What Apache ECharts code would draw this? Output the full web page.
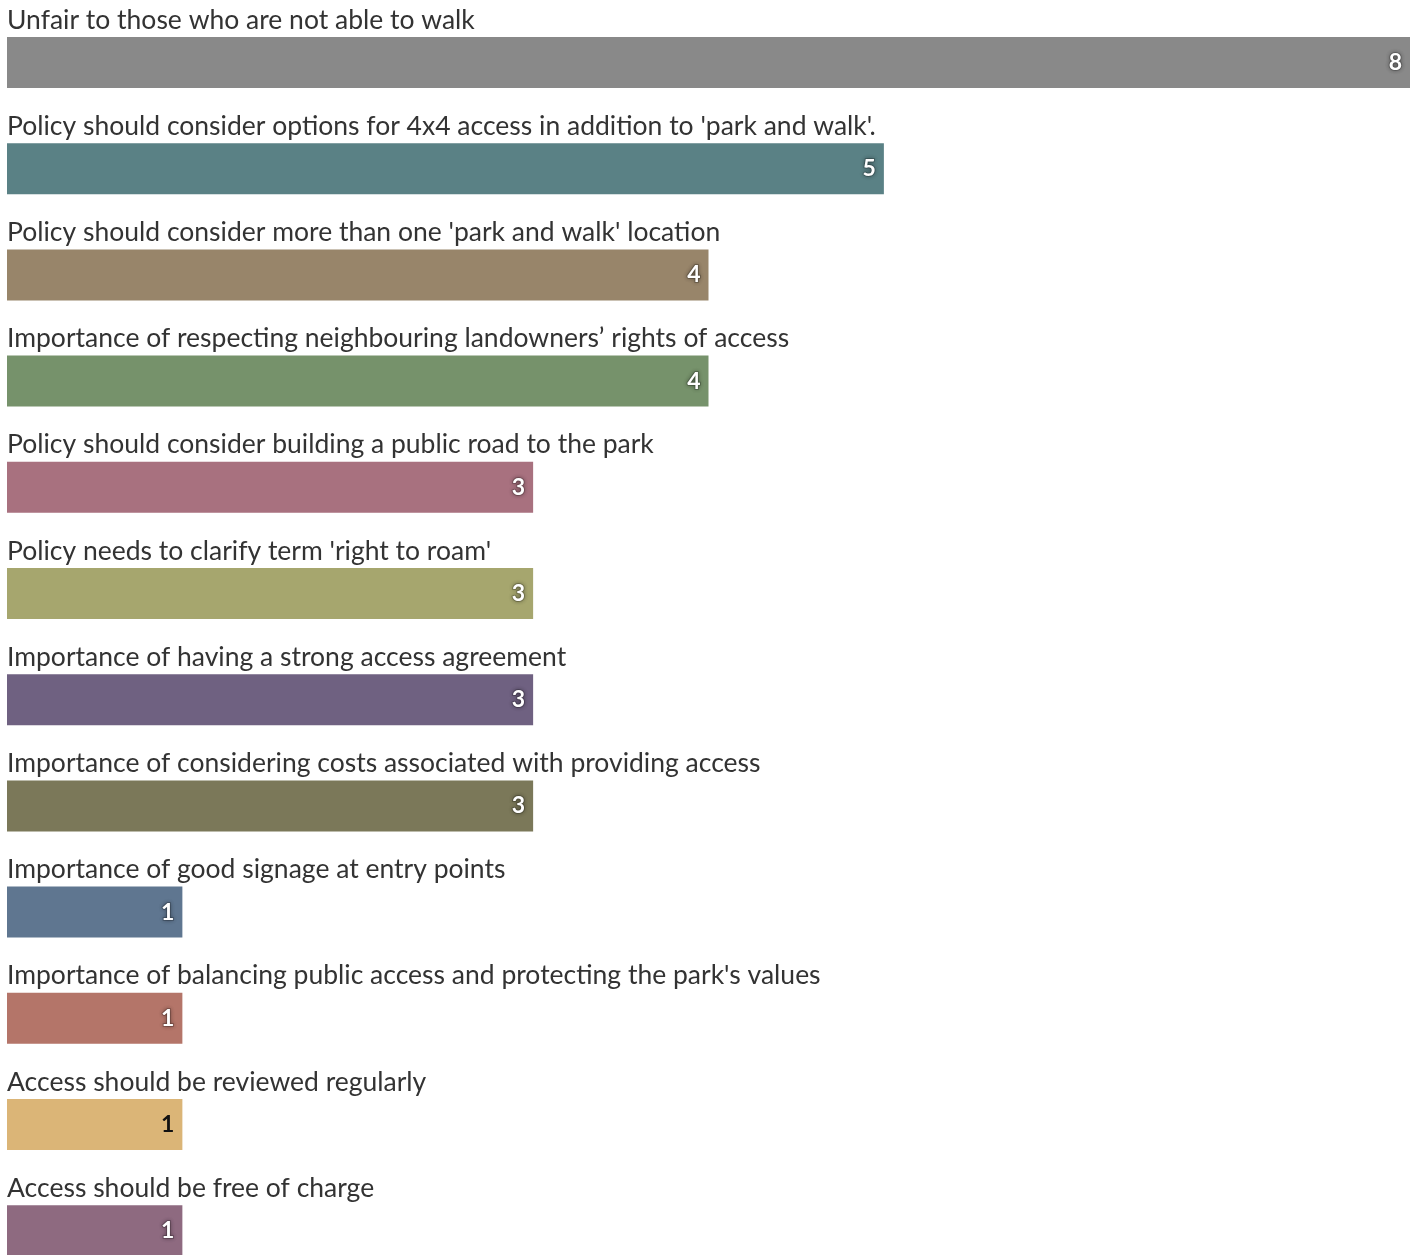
<!DOCTYPE html>
<html>
<head>
<meta charset="utf-8">
<script src="https://cdn.jsdelivr.net/npm/echarts@6/dist/echarts.min.js"></script>
<style>
html,body{margin:0;padding:0;background:#fff;}
#chart{width:1418px;height:1255px;}
</style>
</head>
<body>
<div id="chart"></div>
<script>
const categories = [
  "Unfair to those who are not able to walk",
  "Policy should consider options for 4x4 access in addition to 'park and walk'.",
  "Policy should consider more than one 'park and walk' location",
  "Importance of respecting neighbouring landowners\u2019 rights of access",
  "Policy should consider building a public road to the park",
  "Policy needs to clarify term 'right to roam'",
  "Importance of having a strong access agreement",
  "Importance of considering costs associated with providing access",
  "Importance of good signage at entry points",
  "Importance of balancing public access and protecting the park's values",
  "Access should be reviewed regularly",
  "Access should be free of charge"
];
const values = [8, 5, 4, 4, 3, 3, 3, 3, 1, 1, 1, 1];
const palette = ["#898989","#5a8185","#98856a","#76926b","#a8717f","#a6a66e","#6f6181","#7b7859","#5f7690","#b47569","#dbb577","#8e6a80"];
const labelColors = ["#fff","#fff","#fff","#fff","#fff","#fff","#fff","#fff","#fff","#fff","#111","#fff"];

const chart = echarts.init(document.getElementById('chart'));
const FONT = 'Lato, "Source Sans Pro", "Noto Sans", sans-serif';

chart.setOption({
  animation: false,
  grid: { left: 7, right: 8, top: 9.4, height: 1274.4, containLabel: false, outerBoundsMode: 'none' },
  xAxis: { type: 'value', min: 0, max: 8, show: false },
  yAxis: { type: 'category', data: categories, inverse: true, show: false },
  series: [
    {
      type: 'bar',
      barWidth: 51,
      data: values.map((v, i) => ({
        value: v,
        itemStyle: { color: palette[i] },
        label: {
          color: labelColors[i],
          textShadowColor: labelColors[i] === '#fff' ? 'rgba(0,0,0,0.45)' : 'rgba(0,0,0,0)',
          textShadowBlur: 4,
          textBorderColor: labelColors[i] === '#fff' ? 'rgba(0,0,0,0.2)' : 'rgba(0,0,0,0)',
          textBorderWidth: labelColors[i] === '#fff' ? 2 : 0
        }
      })),
      label: {
        show: true,
        position: 'insideRight',
        distance: 8,
        fontFamily: FONT,
        fontWeight: 'bold',
        fontSize: 23
      }
    },
    {
      type: 'bar',
      barWidth: 51,
      barGap: '-100%',
      silent: true,
      itemStyle: { color: 'rgba(0,0,0,0)' },
      data: values,
      label: {
        show: true,
        position: [0, -17],
        align: 'left',
        verticalAlign: 'middle',
        color: '#333',
        fontFamily: FONT,
        fontSize: 26.5,
        formatter: p => categories[p.dataIndex]
      }
    }
  ]
});
</script>
</body>
</html>
